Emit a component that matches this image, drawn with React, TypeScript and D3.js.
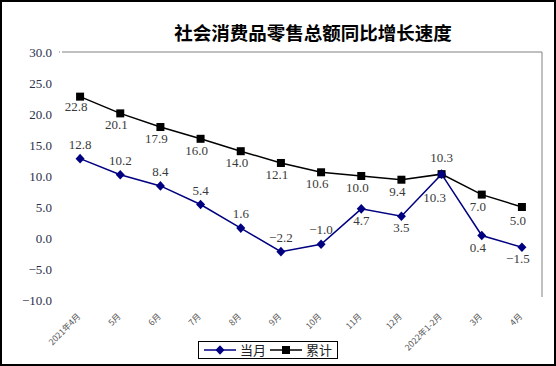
import React, { useEffect, useRef } from 'react';
import * as d3 from 'd3';

const categories = ['2021年4月', '5月', '6月', '7月', '8月', '9月', '10月', '11月', '12月', '2022年1-2月', '3月', '4月'];
const monthly = [12.8, 10.2, 8.4, 5.4, 1.6, -2.2, -1.0, 4.7, 3.5, 10.3, 0.4, -1.5];
const cumulative = [22.8, 20.1, 17.9, 16.0, 14.0, 12.1, 10.6, 10.0, 9.4, 10.3, 7.0, 5.0];
const yTicks = [-10, -5, 0, 5, 10, 15, 20, 25, 30];
// label placement: 1 = above, -1 = below
const monthlyLabelSide = [1, 1, 1, 1, 1, 1, 1, -1, -1, 1, -1, -1];
const cumulativeLabelSide = [-1, -1, -1, -1, -1, -1, -1, -1, -1, -1, -1, -1];

const W = 556;
const H = 366;
const NAVY = '#000080';
const LABEL = '#3a3a3a';
const SERIF = '"Liberation Serif", "DejaVu Serif", serif';
const CJK = '"Noto Sans CJK SC", sans-serif';

const fmt = (v: number) => (v < 0 ? '\u2212' + Math.abs(v).toFixed(1) : v.toFixed(1));
const diamondPath = 'M0,-4.8L4.5,0L0,4.8L-4.5,0Z';

export default function App() {
  const svgRef = useRef<SVGSVGElement>(null);

  useEffect(() => {
    document.body.style.margin = '0';
    const svg = d3.select(svgRef.current);
    svg.selectAll('*').remove();

    const left = 60, right = 542, top = 52, bottom = 300;
    const x = d3.scalePoint<string>().domain(categories).range([left, right]).padding(0.5);
    const y = d3.scaleLinear().domain([-10, 30]).range([bottom, top]);

    svg.append('rect')
      .attr('x', 1).attr('y', 1).attr('width', W - 2).attr('height', H - 2)
      .attr('fill', '#fff').attr('stroke', '#000').attr('stroke-width', 2);

    // title
    svg.append('text')
      .attr('x', 313).attr('y', 40)
      .attr('text-anchor', 'middle')
      .attr('font-family', CJK).attr('font-weight', 700).attr('font-size', 18.5)
      .attr('fill', '#000')
      .text('社会消费品零售总额同比增长速度');

    // plot border (top & right)
    svg.append('path')
      .attr('d', `M${left + 2},${top}H${right}V${bottom - 3}`)
      .attr('fill', 'none').attr('stroke', '#808080').attr('stroke-width', 1);
    svg.append('rect').attr('x', left - 1).attr('y', top - 0.5).attr('width', 1).attr('height', 1).attr('fill', '#808080');

    // y axis labels
    svg.append('g').selectAll('text').data(yTicks).join('text')
      .attr('x', 52).attr('y', (d) => y(d))
      .attr('dy', '0.35em')
      .attr('text-anchor', 'end')
      .attr('font-family', SERIF).attr('font-size', 13)
      .attr('fill', '#2b2f4a')
      .text((d) => fmt(d));

    // x labels
    svg.append('g').selectAll('text').data(categories).join('text')
      .attr('transform', (d) => `translate(${(x(d) ?? 0) + 1},${317}) rotate(-45)`)
      .attr('text-anchor', 'end')
      .attr('font-family', CJK).attr('font-size', 8.5)
      .attr('fill', '#555')
      .text((d) => d);

    const line = d3.line<number>().x((_, i) => x(categories[i]) ?? 0).y((d) => y(d));

    // cumulative series
    svg.append('path').datum(cumulative).attr('d', line)
      .attr('fill', 'none').attr('stroke', '#000').attr('stroke-width', 1.5);
    svg.append('g').selectAll('rect').data(cumulative).join('rect')
      .attr('x', (_, i) => (x(categories[i]) ?? 0) - 4)
      .attr('y', (d) => y(d) - 4)
      .attr('width', 8).attr('height', 8).attr('fill', '#000');

    // monthly series
    svg.append('path').datum(monthly).attr('d', line)
      .attr('fill', 'none').attr('stroke', NAVY).attr('stroke-width', 1.5);
    svg.append('g').selectAll('path').data(monthly).join('path')
      .attr('d', diamondPath)
      .attr('transform', (d, i) => `translate(${x(categories[i])},${y(d)})`)
      .attr('fill', NAVY);

    // data labels
    const addLabels = (vals: number[], sides: number[], dxs: number[], dys: number[]) => {
      svg.append('g').selectAll('text').data(vals).join('text')
        .attr('x', (_, i) => (x(categories[i]) ?? 0) + dxs[i])
        .attr('y', (d, i) => y(d) + (sides[i] > 0 ? -10 : 16) + dys[i])
        .attr('text-anchor', 'middle')
        .attr('font-family', SERIF).attr('font-size', 13)
        .attr('fill', LABEL)
        .text((d) => fmt(d));
    };
    addLabels(monthly, monthlyLabelSide,
      [0, 0, 0, 0, 0, 0, 0, 0, 0, 0, -4, -4],
      [0, 0, 0, 0, 0, 0, 0, 0, 0, -2, 0, 0]);
    addLabels(cumulative, cumulativeLabelSide,
      [-4, -4, -4, -4, -4, -4, -4, -4, -4, -7, -4, -4],
      [-2, 0, 0, 0, 0, 0, 0, 0, 0, 12, 0, 2]);

    // legend
    const lg = svg.append('g');
    lg.append('rect').attr('x', 198.5).attr('y', 341.5).attr('width', 139).attr('height', 17)
      .attr('fill', '#fff').attr('stroke', '#000').attr('stroke-width', 1);
    lg.append('line').attr('x1', 204).attr('x2', 236).attr('y1', 350).attr('y2', 350)
      .attr('stroke', NAVY).attr('stroke-width', 1.5);
    lg.append('path').attr('d', diamondPath).attr('transform', 'translate(220,350)').attr('fill', NAVY);
    lg.append('text').attr('x', 240).attr('y', 355).attr('font-family', CJK).attr('font-size', 13)
      .attr('fill', '#222').text('当月');
    lg.append('line').attr('x1', 270).attr('x2', 302).attr('y1', 350).attr('y2', 350)
      .attr('stroke', '#000').attr('stroke-width', 1.5);
    lg.append('rect').attr('x', 282).attr('y', 346).attr('width', 8).attr('height', 8).attr('fill', '#000');
    lg.append('text').attr('x', 306).attr('y', 355).attr('font-family', CJK).attr('font-size', 13)
      .attr('fill', '#222').text('累计');
  }, []);

  return <svg ref={svgRef} width={W} height={H} style={{ display: 'block' }} />;
}
